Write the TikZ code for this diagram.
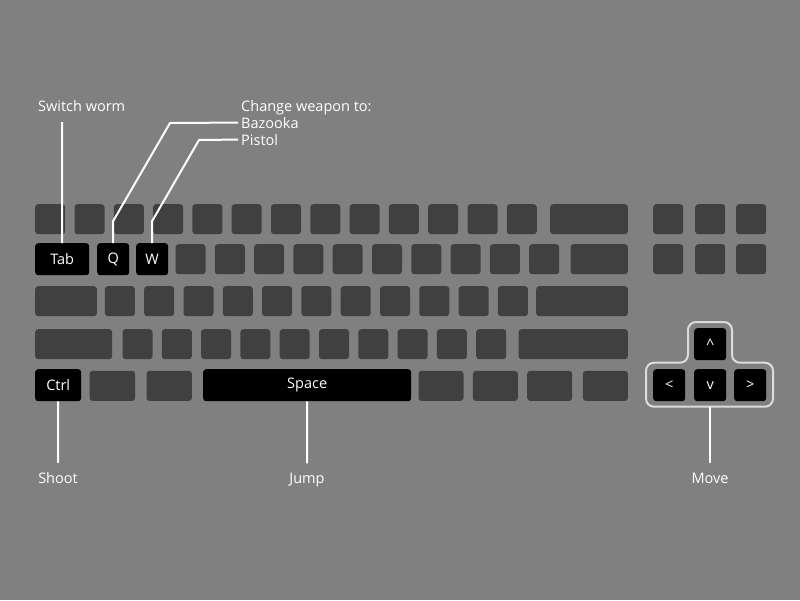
\documentclass[tikz,border=0pt]{standalone}
\usepackage{fontspec}
\setmainfont{Open Sans}
\definecolor{bg}{HTML}{808080}
\definecolor{keydark}{HTML}{404040}
\definecolor{outl}{HTML}{DCDCDC}
\newcommand{\kb}[7]{% name, style, x1, y1, x2, y2, text
  \pgfmathsetmacro\kbw{#5-#3}\pgfmathsetmacro\kbh{#6-#4}%
  \node[#2, minimum width=\kbw pt, minimum height=\kbh pt, anchor=north west] (#1) at (#3,#4) {#7};}
\tikzset{
  key/.style={fill=keydark, rounded corners=3pt, inner sep=0pt},
  hotkey/.style={fill=black, rounded corners=3pt, inner sep=0pt, text=white, font=\fontsize{14.5}{16}\selectfont},
  conn/.style={draw=white, line width=2pt},
  lbl/.style={text=white, font=\fontsize{14.5}{16}\selectfont, inner ysep=0pt, inner xsep=3pt},
  botlbl/.style={text=white, font=\fontsize{14.5}{16}\selectfont, inner ysep=9pt, inner xsep=0pt, anchor=base},
  outline/.style={draw=outl, line width=2pt, rounded corners=8pt},
}
\begin{document}
\begin{tikzpicture}[x=1pt,y=-1pt]
\fill[bg] (0,0) rectangle (800,600);
\useasboundingbox (0,0) rectangle (800,600);
% row 1
\foreach \i in {0,...,12}{\pgfmathsetmacro\xa{35+39.3*\i}\kb{ra\i}{key}{\xa}{204}{\xa+30}{234}{}}
\kb{raw}{key}{550}{204}{627.7}{234}{}
\kb{rar1}{key}{653}{204}{683}{234}{}
\kb{rar2}{key}{695}{204}{725}{234}{}
\kb{rar3}{key}{736}{204}{766}{234}{}
% row 2
\kb{tab}{hotkey}{35}{243}{89}{275}{Tab}
\kb{q}{hotkey}{97}{243}{129}{275}{Q}
\kb{w}{hotkey}{136}{243}{168}{275}{W}
\foreach \i in {0,...,9}{\pgfmathsetmacro\xa{175.3+39.3*\i}\kb{rb\i}{key}{\xa}{244}{\xa+30}{274}{}}
\kb{rbw}{key}{570.3}{244}{627.7}{274}{}
\kb{rbr1}{key}{653}{244}{683}{274}{}
\kb{rbr2}{key}{695}{244}{725}{274}{}
\kb{rbr3}{key}{736}{244}{766}{274}{}
% row 3
\kb{rcw1}{key}{35}{286}{96.7}{316}{}
\foreach \i in {0,...,10}{\pgfmathsetmacro\xa{104.7+39.3*\i}\kb{rc\i}{key}{\xa}{286}{\xa+30}{316}{}}
\kb{rcw2}{key}{536}{286}{627.7}{316}{}
% row 4
\kb{rdw1}{key}{35}{329}{112}{359}{}
\foreach \i in {0,...,9}{\pgfmathsetmacro\xa{122.3+39.3*\i}\kb{rd\i}{key}{\xa}{329}{\xa+30}{359}{}}
\kb{rdw2}{key}{518.3}{329}{627.7}{359}{}
% row 5
\kb{ctrl}{hotkey}{35}{369}{81}{401}{Ctrl}
\kb{re1}{key}{89.3}{370.7}{135}{400.7}{}
\kb{re2}{key}{146.3}{370.7}{191.7}{400.7}{}
\kb{space}{hotkey}{203}{369}{411}{401}{Space}
\kb{re3}{key}{418.3}{370.7}{463.3}{400.7}{}
\kb{re4}{key}{472.7}{370.7}{517.7}{400.7}{}
\kb{re5}{key}{527}{370.7}{572}{400.7}{}
\kb{re6}{key}{582.7}{370.7}{627.7}{400.7}{}
% arrow keys
\draw[outline] (710,322) -- (732,322) -- (732,362.7) -- (773,362.7) -- (773,406.7) -- (646,406.7) -- (646,362.7) -- (688,362.7) -- (688,322) -- cycle;
\kb{up}{hotkey}{694}{328}{726}{360}{\textasciicircum}
\kb{left}{hotkey}{653}{369}{685}{401}{<}
\kb{down}{hotkey}{694}{369}{726}{401}{v}
\kb{right}{hotkey}{734}{369}{766}{401}{>}
% labels
\node[lbl, anchor=base west] (switch) at (35,111) {Switch worm};
\node[lbl, anchor=base west] (change) at (238,111) {Change weapon to:};
\node[lbl, anchor=base west] (baz) at (238,128) {Bazooka};
\node[lbl, anchor=base west] (pistol) at (238,145) {Pistol};
\node[botlbl] (shoot) at (58,483) {Shoot};
\node[botlbl] (jump) at (307,483) {Jump};
\node[botlbl] (move) at (710,483) {Move};
\coordinate (swTop) at (62,122);
\coordinate (arrowsBottom) at (710,407);
% connectors
\draw[conn] (swTop) -- (tab.north);
\draw[conn] (q.north) -- ++(0,-22) -- (170,123) -- (baz.west);
\draw[conn] (w.north) -- ++(0,-22) -- (199,140) -- (pistol.west);
\draw[conn] (ctrl.south) -- (shoot.north);
\draw[conn] (space.south) -- (jump.north);
\draw[conn] (arrowsBottom) -- (move.north);
\end{tikzpicture}
\end{document}
